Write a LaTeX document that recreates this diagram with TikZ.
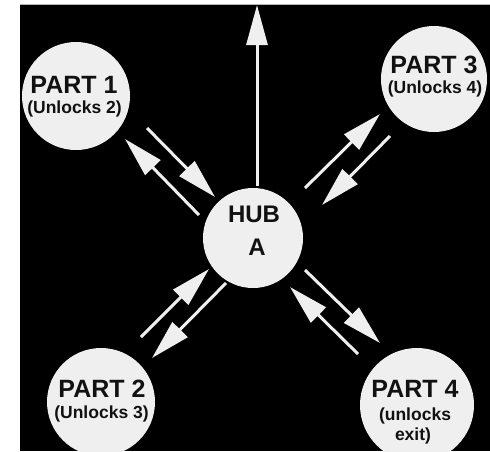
\documentclass[tikz,border=0pt]{standalone}
\usepackage{fontspec}
\setmainfont{Liberation Sans}
\usetikzlibrary{arrows.meta}
\definecolor{disc}{HTML}{EFEFEF}
\definecolor{ink}{HTML}{111111}
\begin{document}
\begin{tikzpicture}[x=1pt,y=-1pt,
  room/.style={circle,fill=disc,draw=none,inner sep=0pt,minimum size=#1},
  title/.style={anchor=base,text=ink,inner sep=0pt,font=\bfseries\fontsize{25}{30}\selectfont},
  note/.style={anchor=base,text=ink,inner sep=0pt,font=\bfseries\fontsize{17.5}{21}\selectfont},
  hubtext/.style={anchor=base,text=ink,inner sep=0pt,font=\bfseries\fontsize{24}{29}\selectfont},
  path/.style={draw=disc,line width=3pt,-{Triangle[length=40pt,width=21pt]}}]
\useasboundingbox (0,0) rectangle (490,451);
% backdrop
\fill[black] (20,5) rectangle (490,451);
\draw[gray!60,line width=1.2pt] (20,4.5) -- (490,4.5);

% rooms
\begin{scope}
\clip (20,5) rectangle (490,451);
\node[room=108pt] (p1) at (76,96) {};
\node[room=106pt] (p3) at (434,79) {};
\node[room=100pt] (hub) at (253,238) {};
\node[room=108pt] (p2) at (101,402) {};
\node[room=114pt] (p4) at (417,405) {};
\end{scope}

% labels
\node[title] (t1) at (74,93) {PART 1};
\node[note] (n1) at (74.5,113) {(Unlocks 2)};
\node[title] (t3) at (434,73) {PART 3};
\node[note] (n3) at (435,93) {(Unlocks 4)};
\node[hubtext] (th) at (254,222) {HUB};
\node[hubtext] (ta) at (257,255) {A};
\node[title] (t2) at (102,397) {PART 2};
\node[note] (n2) at (101.5,418) {(Unlocks 3)};
\node[title] (t4) at (415,397) {PART 4};
\node[note] (n4) at (415,420) {(unlocks};
\node[note] (n4b) at (413,440) {exit)};

% arrow end points
\coordinate (exitA) at (257,186);
\coordinate (exitB) at (257,5);
\coordinate (a1s) at (147,128);  \coordinate (a1e) at (215,197);
\coordinate (b1s) at (199,215);  \coordinate (b1e) at (125,139);
\coordinate (a3s) at (305,188);  \coordinate (a3e) at (380,114);
\coordinate (b3s) at (390,136);  \coordinate (b3e) at (322,205);
\coordinate (a2s) at (141,337);  \coordinate (a2e) at (209,269);
\coordinate (b2s) at (226,283);  \coordinate (b2e) at (152,358);
\coordinate (a4s) at (305,270);  \coordinate (a4e) at (380,343);
\coordinate (b4s) at (358,354);  \coordinate (b4e) at (290,287);

% connections
\draw[path] (exitA) -- (exitB);
\draw[path] (a1s) -- (a1e);
\draw[path] (b1s) -- (b1e);
\draw[path] (a3s) -- (a3e);
\draw[path] (b3s) -- (b3e);
\draw[path] (a2s) -- (a2e);
\draw[path] (b2s) -- (b2e);
\draw[path] (a4s) -- (a4e);
\draw[path] (b4s) -- (b4e);
\end{tikzpicture}
\end{document}
